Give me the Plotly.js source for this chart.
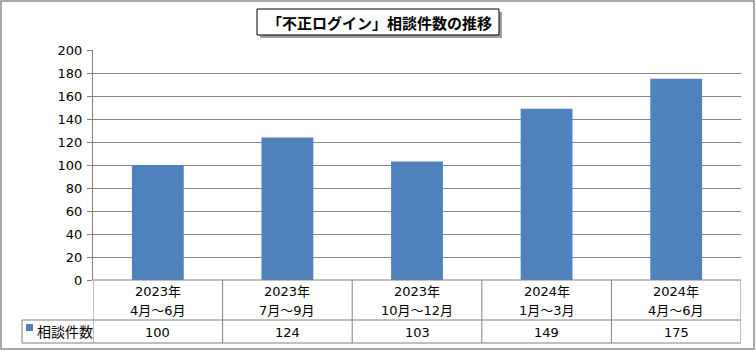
<!DOCTYPE html>
<html><head><meta charset="utf-8">
<script src="https://cdn.plot.ly/plotly-3.0.1.min.js"></script>
<style>html,body{margin:0;padding:0;background:#fff}#c{width:756px;height:351px}</style>
</head><body><div id="c"></div>
<script>
const title = "「不正ログイン」相談件数の推移";
const seriesName = "相談件数";
const yearLabels = ["2023年","2023年","2023年","2024年","2024年"];
const periodLabels = ["4月～6月","7月～9月","10月～12月","1月～3月","4月～6月"];
const values = [100, 124, 103, 149, 175];
const yTicks = [0,20,40,60,80,100,120,140,160,180,200];

const W=756,H=351,L=93,R=741,T=50,B=280;
const px = x => (x-L)/(R-L);
const py = y => (B-y)/(B-T);
const font = "'DejaVu Sans', 'Noto Sans CJK JP', sans-serif";
const tfont = "'Noto Sans CJK JP', sans-serif";
const grey = "#808080";
const cats = values.map((v,i)=>i);

const shapes = [];
const annotations = [];
// outer border
shapes.push({type:'rect',xref:'paper',yref:'paper',x0:px(1),x1:px(754),y0:py(349),y1:py(1),line:{color:'#8c8c8c',width:1.5},layer:'below'});
// title box shadow + box
shapes.push({type:'rect',xref:'paper',yref:'paper',x0:px(260),x1:px(502),y0:py(38),y1:py(12),fillcolor:'#a0a0a0',line:{width:0}});
shapes.push({type:'rect',xref:'paper',yref:'paper',x0:px(257),x1:px(499),y0:py(35),y1:py(9),fillcolor:'#fff',line:{color:'#000',width:1}});
annotations.push({xref:'paper',yref:'paper',x:px(379),y:py(22),text:'<b>'+title+'</b>',showarrow:false,font:{family:tfont,size:15,color:'#000'},xanchor:'center',yanchor:'middle'});

// table lines
const hl = (y,x0,x1)=>shapes.push({type:'line',xref:'paper',yref:'paper',x0:px(x0),x1:px(x1),y0:py(y),y1:py(y),line:{color:grey,width:1}});
hl(280,93,741); hl(320,22,741); hl(343,22,741);
shapes.push({type:'line',xref:'paper',yref:'paper',x0:px(22),x1:px(22),y0:py(320),y1:py(343),line:{color:grey,width:1}});
cats.forEach((c,i)=>{
  shapes.push({type:'line',xref:'x',yref:'paper',x0:c-0.5,x1:c-0.5,y0:py(280),y1:py(343),line:{color:grey,width:1}});
  if(i===cats.length-1) shapes.push({type:'line',xref:'x',yref:'paper',x0:c+0.5,x1:c+0.5,y0:py(280),y1:py(343),line:{color:grey,width:1}});
  annotations.push({xref:'x',yref:'paper',x:c,y:py(291),text:yearLabels[i],showarrow:false,font:{family:font,size:13,color:'#000'},xanchor:'center',yanchor:'middle'});
  annotations.push({xref:'x',yref:'paper',x:c,y:py(310),text:periodLabels[i],showarrow:false,font:{family:font,size:13,color:'#000'},xanchor:'center',yanchor:'middle'});
  annotations.push({xref:'x',yref:'paper',x:c,y:py(332),text:String(values[i]),showarrow:false,font:{family:font,size:13,color:'#000'},xanchor:'center',yanchor:'middle'});
});
// legend key
shapes.push({type:'rect',xref:'paper',yref:'paper',x0:px(26),x1:px(33),y0:py(331),y1:py(324),fillcolor:'#4f81bd',line:{width:0}});
annotations.push({xref:'paper',yref:'paper',x:px(35),y:py(332),text:seriesName,showarrow:false,font:{family:font,size:14,color:'#000'},xanchor:'left',yanchor:'middle'});

Plotly.newPlot('c',[{
  type:'bar',x:cats,y:values,name:seriesName,marker:{color:'#4f81bd'},width:0.4
}],{
  width:W,height:H,margin:{l:L,r:W-R,t:T,b:H-B},
  paper_bgcolor:'#fff',plot_bgcolor:'#fff',showlegend:false,
  font:{family:font,size:13,color:'#000'},
  xaxis:{range:[-0.5,cats.length-0.5],showticklabels:false,showgrid:false,zeroline:false,showline:false,ticks:''},
  yaxis:{range:[0,200],tickvals:yTicks,ticktext:yTicks.map(String),showgrid:true,gridcolor:'#868686',gridwidth:1,zeroline:false,
         showline:true,linecolor:grey,linewidth:1,ticks:'outside',ticklen:5,tickcolor:grey,ticklabelstandoff:2,
         tickfont:{family:font,size:13,color:'#000'}},
  shapes:shapes,annotations:annotations
},{displayModeBar:false,staticPlot:true});
</script></body></html>
